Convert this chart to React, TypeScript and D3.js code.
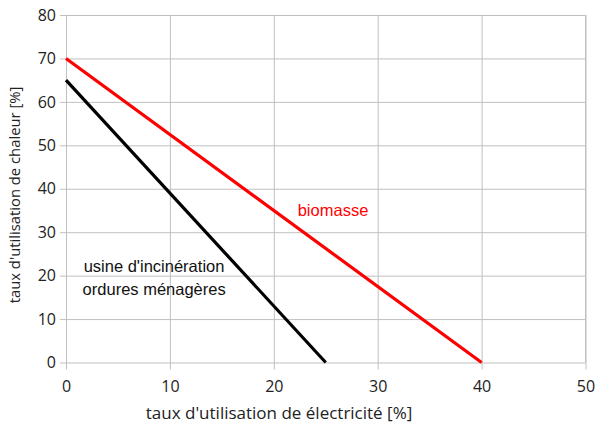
import { useEffect, useRef } from "react";
import * as d3 from "d3";

const W = 595, H = 423;
const M = { top: 15, right: 10, bottom: 61, left: 66 };
const IW = 585.5 - M.left;
const IH = 362.5 - M.top;

const X_TICKS = [0, 10, 20, 30, 40, 50];
const Y_TICKS = [0, 10, 20, 30, 40, 50, 60, 70, 80];

const BIOMASSE = [
  { x: 0, y: 70 },
  { x: 40, y: 0 },
];
const USINE = [
  { x: 0, y: 65 },
  { x: 25, y: 0 },
];

const GRID = "#c0c0c0";
const TICK_FONT = "'Open Sans', 'Liberation Sans', sans-serif";
const LABEL_FONT = "'Liberation Sans', Arial, sans-serif";

export default function App() {
  const ref = useRef<SVGSVGElement>(null);

  useEffect(() => {
    const svg = d3.select(ref.current);
    svg.selectAll("*").remove();

    const x = d3.scaleLinear().domain([0, 50]).range([0, IW]);
    const y = d3.scaleLinear().domain([0, 80]).range([IH, 0]);

    const g = svg.append("g").attr("transform", `translate(${M.left},${M.top})`);

    // grid + axes
    g.append("g")
      .attr("transform", `translate(0,${IH})`)
      .call(d3.axisBottom(x).tickValues(X_TICKS).tickSize(-IH - 7).tickPadding(15).tickFormat(d3.format("d")))
      .call(a => a.select(".domain").remove())
      .call(a => a.selectAll(".tick line").attr("stroke", GRID).attr("transform", "translate(0,7)"))
      .call(a => a.selectAll("text").attr("fill", "#222").attr("font-size", 16).attr("font-family", TICK_FONT).attr("dy", "0.9em"));

    g.append("g")
      .call(d3.axisLeft(y).tickValues(Y_TICKS).tickSize(-IW - 6).tickPadding(4).tickFormat(d3.format("d")))
      .call(a => a.select(".domain").remove())
      .call(a => a.selectAll(".tick line").attr("stroke", GRID).attr("transform", "translate(-6,0)"))
      .call(a => a.selectAll("text").attr("fill", "#222").attr("font-size", 16).attr("font-family", TICK_FONT).attr("dx", "-6"));

    // right border
    g.append("line").attr("x1", IW).attr("x2", IW).attr("y1", 0).attr("y2", IH).attr("stroke", GRID);

    const line = d3.line<{ x: number; y: number }>().x(d => x(d.x)).y(d => y(d.y));

    g.append("path").datum(USINE).attr("d", line).attr("fill", "none").attr("stroke", "#000").attr("stroke-width", 3.2);
    g.append("path").datum(BIOMASSE).attr("d", line).attr("fill", "none").attr("stroke", "#ff0000").attr("stroke-width", 3.2);

    // annotations
    g.append("text").attr("x", x(22.3)).attr("y", 216 - M.top).attr("fill", "#ff0000")
      .attr("font-size", 16.5).attr("font-family", LABEL_FONT).text("biomasse");
    g.append("text").attr("x", x(1.7)).attr("y", 272 - M.top).attr("fill", "#111")
      .attr("font-size", 16.5).attr("font-family", LABEL_FONT).text("usine d'incinération");
    g.append("text").attr("x", x(1.6)).attr("y", 295 - M.top).attr("fill", "#111")
      .attr("font-size", 16.5).attr("font-family", LABEL_FONT).text("ordures ménagères");

    // axis titles
    svg.append("text").attr("x", 279).attr("y", 419).attr("text-anchor", "middle")
      .attr("font-size", 17).attr("font-family", TICK_FONT).attr("fill", "#222")
      .text("taux d'utilisation de électricité [%]");
    svg.append("text").attr("transform", `translate(20,195) rotate(-90)`).attr("text-anchor", "middle")
      .attr("font-size", 14.8).attr("font-family", TICK_FONT).attr("fill", "#222")
      .text("taux d'utilisation de chaleur [%]");
  }, []);

  return (
    <div style={{ position: "absolute", left: 0, top: 0, width: W, height: H, background: "#fff" }}>
      <svg ref={ref} width={W} height={H} style={{ display: "block" }} />
    </div>
  );
}
